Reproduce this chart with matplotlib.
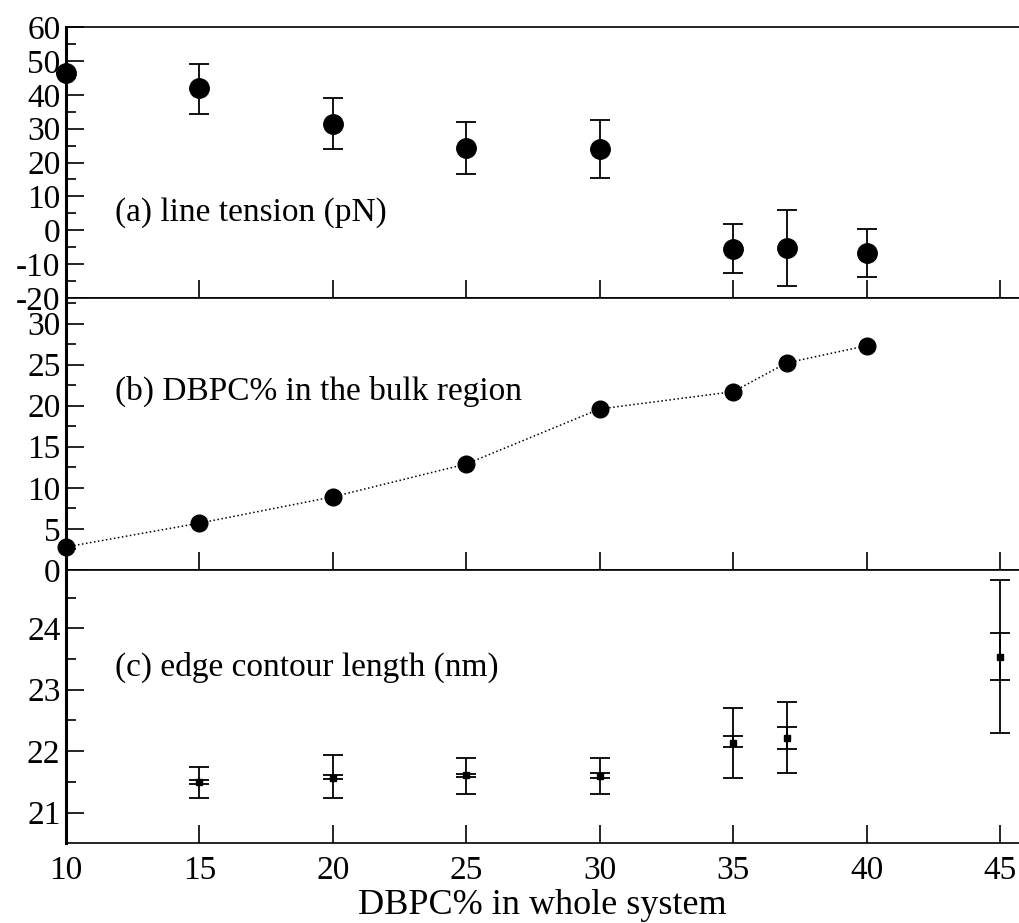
import matplotlib.pyplot as plt
import numpy as np

# (a) line tension
x_a = [10, 15, 20, 25, 30, 35, 37, 40]
tension = [46.3, 41.9, 31.5, 24.2, 24.0, -5.6, -5.3, -6.7]
tension_err_lo = [0.0, 7.6, 7.5, 7.7, 8.5, 7.0, 11.0, 7.2]
tension_err_hi = [0.0, 7.3, 7.5, 7.8, 8.7, 7.4, 11.2, 7.0]

# (b) DBPC% in bulk
x_b = [10, 15, 20, 25, 30, 35, 37, 40]
bulk = [2.8, 5.7, 8.9, 12.9, 19.6, 21.7, 25.2, 27.3]

# (c) edge contour length
x_c = [15, 20, 25, 30, 35, 37, 45]
contour = [21.50, 21.57, 21.61, 21.59, 22.13, 22.21, 23.54]
outer_lo = [21.24, 21.24, 21.31, 21.31, 21.57, 21.65, 22.29]
outer_hi = [21.74, 21.93, 21.88, 21.88, 22.70, 22.80, 24.79]
inner_lo = [21.47, 21.54, 21.58, 21.56, 22.06, 22.03, 23.16]
inner_hi = [21.53, 21.61, 21.63, 21.65, 22.24, 22.39, 23.93]


def style(ax, ylim, major, minor):
    ax.set_xlim(10, 45.71)
    ax.set_ylim(*ylim)
    ax.set_xticks([10, 15, 20, 25, 30, 35, 40, 45])
    ax.set_yticks(major)
    ax.set_yticks(minor, minor=True)
    ax.tick_params(axis="both", which="both", direction="in", labelsize=24,
                   width=1.2, colors="black", top=False, right=False)
    ax.tick_params(axis="both", which="major", length=13)
    ax.tick_params(axis="both", which="minor", length=7)
    ax.tick_params(axis="y", pad=4)
    ax.spines["right"].set_visible(False)
    ax.spines["left"].set_linewidth(2.2)
    ax.spines["top"].set_linewidth(1.2)
    ax.spines["bottom"].set_linewidth(1.2)


def main():
    plt.rcParams["font.family"] = ["Liberation Serif", "DejaVu Serif"]
    plt.rcParams["axes.unicode_minus"] = False
    fig = plt.figure(figsize=(10.19, 9.23), dpi=100)
    left, width = 0.0648, 0.9352
    ax1 = fig.add_axes([left, 0.6771, width, 0.2936])
    ax2 = fig.add_axes([left, 0.3825, width, 0.2946])
    ax3 = fig.add_axes([left, 0.0864, width, 0.2961])

    # panel a
    ea = np.array([tension_err_lo, tension_err_hi])
    ax1.errorbar(x_a, tension, yerr=ea, fmt="o", color="black", ms=14,
                 capsize=7, elinewidth=1.3, capthick=1.3, clip_on=False)
    style(ax1, (-20, 60), np.arange(-20, 61, 10), np.arange(-15, 60, 10))
    ax1.tick_params(axis="x", labelbottom=False)
    ax1.text(11.85, 5.1, "(a) line tension (pN)", fontsize=24, va="center")

    # panel b
    ax2.plot(x_b, bulk, ":", color="black", lw=1.1, marker="o", ms=12,
             clip_on=False)
    style(ax2, (0, 33.1), np.arange(0, 31, 5), np.arange(2.5, 33, 5))
    ax2.tick_params(axis="x", labelbottom=False)
    ax2.text(11.85, 21.7, "(b) DBPC% in the bulk region", fontsize=24,
             va="center")

    # panel c
    c = np.array(contour)
    eo = np.array([c - np.array(outer_lo), np.array(outer_hi) - c])
    ei = np.array([c - np.array(inner_lo), np.array(inner_hi) - c])
    ax3.errorbar(x_c, contour, yerr=eo, fmt="s", color="black", ms=5,
                 capsize=7, elinewidth=1.3, capthick=1.3, clip_on=False)
    ax3.errorbar(x_c, contour, yerr=ei, fmt="none", ecolor="black",
                 capsize=7, elinewidth=1.3, capthick=1.3, clip_on=False)
    style(ax3, (20.5, 24.95), [21, 22, 23, 24], [21.5, 22.5, 23.5, 24.5])
    ax3.text(11.85, 23.37, "(c) edge contour length (nm)", fontsize=24,
             va="center")
    ax3.tick_params(axis="x", pad=9)
    ax3.set_xlabel("DBPC% in whole system", fontsize=26, labelpad=2)

    fig.savefig("out.png", dpi=100)


if __name__ == "__main__":
    main()
